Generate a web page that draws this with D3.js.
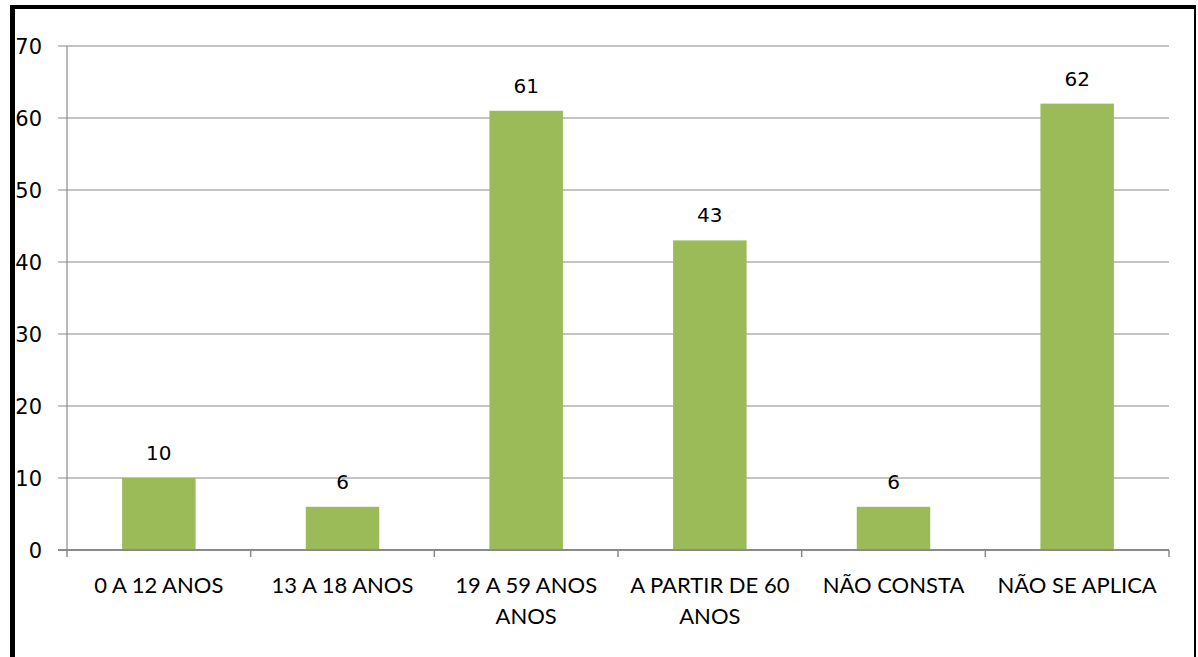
<!DOCTYPE html>
<html><head><meta charset="utf-8">
<script src="https://cdn.jsdelivr.net/npm/d3@7"></script>
<style>body{margin:0;background:#fff}svg{display:block}</style>
</head><body>
<svg id="c" width="1198" height="657"></svg>
<script>
const categories = ["0 A 12 ANOS", "13 A 18 ANOS", "19 A 59 ANOS|ANOS", "A PARTIR DE 60|ANOS", "NÃO CONSTA", "NÃO SE APLICA"];
const values = [10, 6, 61, 43, 6, 62];
const yTicks = [0, 10, 20, 30, 40, 50, 60, 70];

const svg = d3.select("#c");
const m = {left: 67, right: 1169, top: 46, bottom: 550};

// frame
svg.append("rect").attr("x", 10).attr("y", 5).attr("width", 1186).attr("height", 4).attr("fill", "#000");
svg.append("rect").attr("x", 10).attr("y", 5).attr("width", 5).attr("height", 660).attr("fill", "#000");
svg.append("rect").attr("x", 1194).attr("y", 5).attr("width", 2).attr("height", 660).attr("fill", "#000");

const x = d3.scaleBand().domain(categories).range([m.left, m.right]).paddingInner(0.6).paddingOuter(0.3);
const xb = d3.scaleBand().domain(categories).range([m.left, m.right]);
const y = d3.scaleLinear().domain([0, 70]).range([m.bottom, m.top]);

// gridlines
svg.append("g").selectAll("line").data(yTicks.filter(d => d > 0)).join("line")
  .attr("x1", 58).attr("x2", m.right).attr("y1", d => y(d)).attr("y2", d => y(d))
  .attr("stroke", "#8a8a8a").attr("stroke-width", 1.2);

// y axis line
svg.append("line").attr("x1", m.left).attr("x2", m.left).attr("y1", m.top).attr("y2", m.bottom)
  .attr("stroke", "#8a8a8a").attr("stroke-width", 1.2);

// bars
svg.append("g").selectAll("rect").data(values).join("rect")
  .attr("x", (d, i) => x(categories[i])).attr("width", x.bandwidth())
  .attr("y", d => y(d)).attr("height", d => y(0) - y(d))
  .attr("fill", "#9BBB59");

// x axis line & ticks
svg.append("line").attr("x1", 58).attr("x2", m.right).attr("y1", m.bottom).attr("y2", m.bottom)
  .attr("stroke", "#8a8a8a").attr("stroke-width", 2);
const tickXs = categories.map(c => xb(c)).concat([m.right]);
svg.append("g").selectAll("line").data(tickXs).join("line")
  .attr("x1", d => d).attr("x2", d => d).attr("y1", m.bottom).attr("y2", m.bottom + 7)
  .attr("stroke", "#8a8a8a").attr("stroke-width", 1.5);

// y tick labels
svg.append("g").selectAll("text").data(yTicks).join("text")
  .attr("x", 42).attr("y", d => y(d)).attr("dy", "0.36em").attr("text-anchor", "end")
  .attr("font-family", "DejaVu Sans").attr("font-size", 21).attr("fill", "#000")
  .text(d => d);

// value labels
svg.append("g").selectAll("text").data(values).join("text")
  .attr("x", (d, i) => x(categories[i]) + x.bandwidth() / 2).attr("y", d => y(d) - 18)
  .attr("text-anchor", "middle")
  .attr("font-family", "DejaVu Sans").attr("font-size", 20).attr("fill", "#000")
  .text(d => d);

// category labels
const cl = svg.append("g").selectAll("text").data(categories).join("text")
  .attr("x", c => xb(c) + xb.bandwidth() / 2).attr("y", 593)
  .attr("text-anchor", "middle")
  .attr("font-family", "Lato").attr("font-size", 22).attr("fill", "#000");
cl.each(function(c) {
  const lines = c.split("|");
  const t = d3.select(this);
  const cx = +t.attr("x");
  lines.forEach((ln, j) => t.append("tspan").attr("x", cx).attr("y", 593 + j * 31).text(ln));
});
</script>
</body></html>
